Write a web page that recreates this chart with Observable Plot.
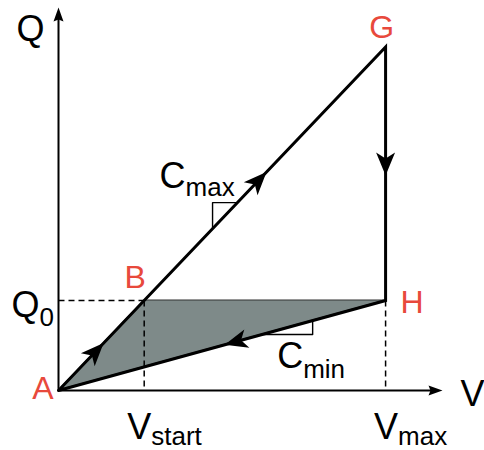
<!DOCTYPE html>
<html>
<head>
<meta charset="utf-8">
<script src="https://cdn.jsdelivr.net/npm/d3@7"></script>
<script src="https://cdn.jsdelivr.net/npm/@observablehq/plot@0.6"></script>
<style>
  html, body { margin: 0; padding: 0; background: #fff; }
</style>
</head>
<body>
<div id="chart"></div>
<script>
// Corner points of the charge (Q) – voltage (V) cycle
const pointNames = ["A", "B", "G", "H"];
const pointV = [0, 2.62, 10, 10];
const pointQ = [0, 2.752, 10.5, 2.752];

// Axis extents (where the axis arrows end)
const axisVEnd = 11.74;
const axisQEnd = 11.71;

// Marked values on the axes: main letter + subscript
const vTickMain = ["V", "V"];
const vTickSub = ["start", "max"];
const vTickValue = [2.62, 10];
const qTickMain = ["Q"];
const qTickSub = ["0"];
const qTickValue = [2.752];

// Slope annotations (C with subscript), span along their line in V
const slopeMain = ["C", "C"];
const slopeSub = ["max", "min"];
const slopeSpan = [[4.71, 5.47], [6.22, 7.77]];

// Direction arrows: leg of the cycle and fraction along it
const arrowLeg = [["A", "G"], ["A", "G"], ["G", "H"], ["H", "A"]];
const arrowAt = [0.138, 0.636, 0.507, 0.492];

// ---------------------------------------------------------------
const P = Object.fromEntries(pointNames.map((n, i) => [n, {name: n, v: pointV[i], q: pointQ[i]}]));
const cMax = P.B.q / P.B.v;   // slope of A→G
const cMin = P.H.q / P.H.v;   // slope of H→A

const font = "'Liberation Sans', Arial, Helvetica, sans-serif";
const RED = "#e8493c";
const GREY = "#7e8a89";
const MAIN = 36, SUB = 26, POINT = 32;

// Filled arrowheads with the tip at the origin, pointing up
const stealth = {
  draw(ctx) {
    ctx.moveTo(0, 0);
    ctx.lineTo(9.5, 23);
    ctx.lineTo(0, 17);
    ctx.lineTo(-9.5, 23);
    ctx.closePath();
  }
};
const axisHead = {
  draw(ctx) {
    ctx.moveTo(0, 0);
    ctx.lineTo(5, 14);
    ctx.lineTo(0, 12);
    ctx.lineTo(-5, 14);
    ctx.closePath();
  }
};

// heading in degrees, clockwise from up (x and y share the same px per unit)
const heading = (dv, dq) => Math.atan2(dv, dq) * 180 / Math.PI;

const arrows = arrowLeg.map(([a, b], i) => {
  const from = P[a], to = P[b], t = arrowAt[i];
  return {
    v: from.v + t * (to.v - from.v),
    q: from.q + t * (to.q - from.q),
    angle: heading(to.v - from.v, to.q - from.q)
  };
});
const axisTips = [
  {v: 0, q: axisQEnd, angle: heading(0, 1)},
  {v: axisVEnd, q: 0, angle: heading(1, 0)}
];
const axes = [
  {v1: 0, q1: 0, v2: 0, q2: axisQEnd - 0.3},
  {v1: 0, q1: 0, v2: axisVEnd - 0.3, q2: 0}
];

// Shaded triangle A–B–H between the two slopes
const shade = [
  {v: P.A.v, lo: P.A.q, hi: P.A.q},
  {v: P.B.v, lo: cMin * P.B.v, hi: P.B.q},
  {v: P.H.v, lo: P.H.q, hi: P.H.q}
];

// Dashed guides to the axes
const guides = [
  {v1: 0, q1: qTickValue[0], v2: P.B.v, q2: P.B.q},
  {v1: vTickValue[0], q1: P.B.q, v2: vTickValue[0], q2: 0},
  {v1: vTickValue[1], q1: P.H.q, v2: vTickValue[1], q2: 0}
];

// Right-angle slope markers
const [s0, s1] = slopeSpan;
const slopeMarks = [
  [{v: s0[0], q: cMax * s0[0]}, {v: s0[0], q: cMax * s0[1]}, {v: s0[1], q: cMax * s0[1]}],
  [{v: s1[1], q: cMin * s1[1]}, {v: s1[1], q: cMin * s1[0]}, {v: s1[0], q: cMin * s1[0]}]
];
const slopeCorners = slopeMarks.map((m) => m[1]);

const cycle = ["A", "G", "H", "A"].map((n) => P[n]);

function plain(d, text, opts) {
  return Plot.text([d], {x: "v", y: "q", text: () => text, lineAnchor: "bottom", ...opts});
}
function subscripted(d, main, sub, {dx, dy, subDy}) {
  return [
    plain(d, main, {textAnchor: "end", dx, dy, fontSize: MAIN, fill: "black"}),
    plain(d, sub, {textAnchor: "start", dx, dy: subDy, fontSize: SUB, fill: "black"})
  ];
}

const chart = Plot.plot({
  width: 484,
  height: 450,
  marginLeft: 58,
  marginRight: 42,
  marginTop: 7,
  marginBottom: 60,
  x: {domain: [0, axisVEnd], axis: null},
  y: {domain: [0, axisQEnd], axis: null},
  style: {fontFamily: font, background: "white", overflow: "visible"},
  marks: [
    Plot.areaY(shade, {x: "v", y1: "lo", y2: "hi", fill: GREY, stroke: "#333", strokeWidth: 1}),
    Plot.link(guides, {x1: "v1", y1: "q1", x2: "v2", y2: "q2", stroke: "black", strokeWidth: 1.5, strokeDasharray: "6,4"}),
    Plot.link(axes, {x1: "v1", y1: "q1", x2: "v2", y2: "q2", stroke: "black", strokeWidth: 2}),
    Plot.dot(axisTips, {x: "v", y: "q", rotate: "angle", symbol: axisHead, fill: "black", stroke: "none"}),
    ...slopeMarks.map((m) => Plot.line(m, {x: "v", y: "q", stroke: "black", strokeWidth: 1.4})),
    Plot.line(cycle, {x: "v", y: "q", stroke: "black", strokeWidth: 3, strokeLinejoin: "miter", strokeMiterlimit: 3, curve: "linear"}),
    Plot.dot(arrows, {x: "v", y: "q", rotate: "angle", symbol: stealth, fill: "black", stroke: "none"}),

    // axis names
    plain({v: 0, q: axisQEnd}, "Q", {textAnchor: "middle", dx: -28, dy: 33, fontSize: MAIN}),
    plain({v: axisVEnd, q: 0}, "V", {textAnchor: "start", dx: 18, dy: 15, fontSize: MAIN}),

    // point names
    plain(P.A, "A", {textAnchor: "end", dx: -5, dy: 8, fontSize: POINT, fill: RED}),
    plain(P.B, "B", {textAnchor: "middle", dx: -9, dy: -12, fontSize: POINT, fill: RED}),
    plain(P.G, "G", {textAnchor: "middle", dx: -4, dy: -9, fontSize: POINT, fill: RED}),
    plain(P.H, "H", {textAnchor: "start", dx: 15, dy: 13, fontSize: POINT, fill: RED}),

    // marked values
    ...subscripted({v: 0, q: qTickValue[0]}, qTickMain[0], qTickSub[0], {dx: -19, dy: 17, subDy: 26}),
    ...subscripted({v: vTickValue[0], q: 0}, vTickMain[0], vTickSub[0], {dx: 7, dy: 48, subDy: 54}),
    ...subscripted({v: vTickValue[1], q: 0}, vTickMain[1], vTickSub[1], {dx: 12.5, dy: 48, subDy: 54}),

    // slopes
    ...subscripted(slopeCorners[0], slopeMain[0], slopeSub[0], {dx: -27, dy: -15, subDy: -7}),
    ...subscripted(slopeCorners[1], slopeMain[1], slopeSub[1], {dx: -9.5, dy: 33, subDy: 43})
  ]
});

document.getElementById("chart").append(chart);
</script>
</body>
</html>
